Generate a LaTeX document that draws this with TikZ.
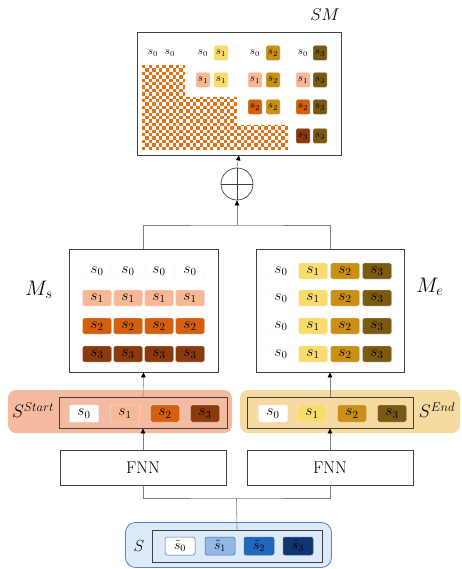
\RequirePackage{fix-cm}
\documentclass[tikz,border=0pt]{standalone}
\usetikzlibrary{arrows.meta}
\definecolor{st0}{HTML}{FFFFFF}
\definecolor{st1}{HTML}{F8B896}
\definecolor{st2}{HTML}{D2600E}
\definecolor{st3}{HTML}{8A3A0C}
\definecolor{en0}{HTML}{FFFFFF}
\definecolor{en1}{HTML}{FADC6C}
\definecolor{en2}{HTML}{C98F17}
\definecolor{en3}{HTML}{7A5A12}
\definecolor{bl0}{HTML}{FFFFFF}
\definecolor{bl1}{HTML}{94B8E6}
\definecolor{bl2}{HTML}{1F68BD}
\definecolor{bl3}{HTML}{12366F}
\definecolor{bandstart}{HTML}{F5BBA0}
\definecolor{bandend}{HTML}{F7D9A2}
\definecolor{bandblue}{HTML}{DDEAF8}
\definecolor{bandblueline}{HTML}{4F86CF}
\definecolor{checker}{HTML}{E07418}
\begin{document}
\begin{tikzpicture}[x=1pt,y=-1pt,
  cell/.style={rounded corners=1.5pt, minimum width=29pt, minimum height=16pt,
    inner sep=0pt, font=\fontsize{15.5}{15.5}\selectfont, fill=#1, draw=#1!80!black!20!white, line width=0.4pt},
  smcell/.style={rounded corners=1.5pt, minimum width=14pt, minimum height=15pt,
    inner sep=0pt, font=\fontsize{11}{11}\selectfont, fill=#1, draw=#1!80!black!15!white, line width=0.3pt},
  bluecell/.style={rounded corners=2pt, minimum width=30pt, minimum height=18pt,
    inner sep=0pt, font=\fontsize{14}{14}\selectfont, fill=#1, draw=bandblueline!80!black, line width=0.5pt},
  frame/.style={draw=black!75, line width=0.8pt, minimum width=#1, inner sep=0pt},
  band/.style={fill=#1, rounded corners=8pt, inner sep=0pt},
  conn/.style={draw=black!50, line width=0.6pt},
  arr/.style={conn, -{Triangle[length=5pt,width=4.5pt,black]}},
  lbl/.style={font=\fontsize{#1}{#1}\selectfont, inner sep=0pt}
]
\useasboundingbox (0,0) rectangle (462,569);

% ---- bottom: input sequence ----
\node[band=bandblue, draw=bandblueline, line width=0.8pt, rounded corners=10pt,
      minimum width=206pt, minimum height=45pt] (sband) at (228.5,545) {};
\node[frame=170pt, minimum height=32pt] (sin) at (237,546) {};
\node[lbl=16] (slbl) at (139,546) {$S$};
\foreach \k/\x in {0/180,1/220,2/259,3/298}
  \node[bluecell=bl\k] (s\k) at (\x,546) {$\tilde{s}_{\k}$};

% ---- FNN layers ----
\node[frame=166pt, minimum height=35pt, font=\fontsize{17}{17}\selectfont] (fnnL) at (143,467.5) {FNN};
\node[frame=166pt, minimum height=35pt, font=\fontsize{17}{17}\selectfont] (fnnR) at (330,467.5) {FNN};
\coordinate (bm) at (236.5,498);
\draw[conn] (fnnL.south) |- (bm) -| (fnnR.south);
\draw[conn] (bm) -- (sin.north);

% ---- start / end scores ----
\node[band=bandstart, minimum width=224pt, minimum height=43pt] (bst) at (120,411.5) {};
\node[band=bandend, minimum width=220pt, minimum height=43pt] (ben) at (350,411.5) {};
\node[frame=168pt, minimum height=31pt] (sst) at (143,412.5) {};
\node[frame=166pt, minimum height=31pt] (sen) at (330,412.5) {};
\node[lbl=18] at (33,410) {$S^{Start}$};
\node[lbl=18] at (437,410) {$S^{End}$};
\foreach \k/\x in {0/84,1/125,2/165,3/205}
  \node[cell=st\k, minimum height=17pt] (a\k) at (\x,413.5) {$s_{\k}$};
\foreach \k/\x in {0/273,1/312,2/352,3/392}
  \node[cell=en\k, minimum height=17pt] (b\k) at (\x,413.5) {$s_{\k}$};
\draw[arr] (fnnL.north) -- (sst.south);
\draw[arr] (fnnR.north) -- (sen.south);

% ---- broadcast matrices ----
\node[frame=149pt, minimum height=123pt] (ms) at (143.5,310.5) {};
\node[frame=148pt, minimum height=123pt] (me) at (330,310.5) {};
\node[lbl=21] at (39,290) {$M_s$};
\node[lbl=21] at (430,287) {$M_e$};
\foreach \i/\y in {0/271,1/298,2/326,3/354} {
  \foreach \j/\x in {0/97,1/128,2/159,3/190}
    \node[cell=st\i] (ms-\i-\j) at (\x,\y) {$s_{\i}$};
  \foreach \j/\x in {0/281,1/313,2/345,3/377}
    \node[cell=en\j] (me-\i-\j) at (\x,\y) {$s_{\j}$};
}
\draw[arr] (sst.north) -- (ms.south);
\draw[arr] (sen.north) -- (me.south);

% ---- sum ----
\node[circle, draw=black!75, line width=0.7pt, minimum size=32pt, inner sep=0pt] (op) at (237,184) {};
\draw[black!75, line width=0.7pt] (op.west) -- (op.east) (op.north) -- (op.south);
\coordinate (tm) at (237,225);
\draw[conn] (ms.north) |- (tm) -| (me.north);
\draw[arr] (tm) -- (op.south);

% ---- span matrix ----
\node[frame=204pt, minimum height=123pt] (sm) at (239,93.5) {};
\node[lbl=17] at (325,15) {$SM$};
\draw[arr] (op.north) -- (sm.south);

% masked lower triangle
\begin{scope}
  \clip (142,65) -- (185,65) -- (185,97) -- (237,97) -- (237,125) -- (288,125)
        -- (288,150) -- (142,150) -- cycle;
  \foreach \a in {0,...,43}
    \foreach \b in {0,...,25} {
      \pgfmathtruncatemacro\chk{mod(\a+\b,2)}
      \ifnum\chk=0
        \fill[checker] ({142+\a*3.4},{65+\b*3.4}) rectangle ++(3.4,3.4);
      \fi
    }
\end{scope}

% start/end pairs of the upper triangle
\foreach \j/\xl/\xr in {0/153/170,1/203/221,2/255/273,3/303/320}
  \foreach \i/\y in {0/53,1/80,2/107,3/136} {
    \ifnum\i>\j\relax\else
      \node[smcell=st\i] (sml-\i-\j) at (\xl,\y) {$s_{\i}$};
      \node[smcell=en\j] (smr-\i-\j) at (\xr,\y) {$s_{\j}$};
    \fi
  }
\end{tikzpicture}
\end{document}
